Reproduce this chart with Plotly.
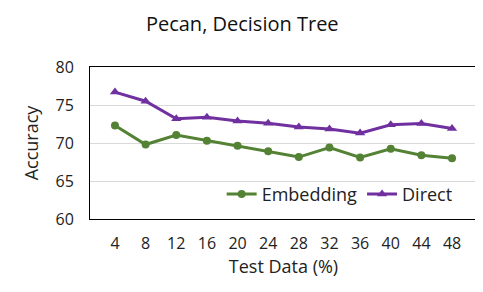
import plotly.graph_objects as go

test_pct = ["4", "8", "12", "16", "20", "24", "28", "32", "36", "40", "44", "48"]
embedding = [72.3, 69.8, 71.05, 70.3, 69.65, 68.9, 68.15, 69.4, 68.1, 69.25, 68.4, 68.0]
direct = [76.7, 75.5, 73.2, 73.4, 72.9, 72.6, 72.1, 71.85, 71.3, 72.4, 72.55, 71.9]

FONT = "Open Sans"
fig = go.Figure()
fig.add_trace(go.Scatter(x=test_pct, y=embedding, name="Embedding", mode="lines+markers",
                         line=dict(color="#548235", width=3),
                         marker=dict(symbol="circle", size=8, color="#548235")))
fig.add_trace(go.Scatter(x=test_pct, y=direct, name="Direct", mode="lines+markers",
                         line=dict(color="#7030A0", width=3),
                         marker=dict(symbol="triangle-up", size=9, color="#7030A0")))

fig.update_layout(
    width=483, height=292,
    margin=dict(l=82, r=14, t=59, b=81),
    paper_bgcolor="white", plot_bgcolor="white",
    font=dict(family=FONT, size=16, color="#222"),
    title=dict(text="Pecan, Decision Tree", x=0.485, xanchor="center", y=0.945, yanchor="middle",
               font=dict(family=FONT, size=20, color="#111")),
    xaxis=dict(type="category", showgrid=False, showline=True, linecolor="black", linewidth=1,
               mirror=True, ticks="", ticklabelstandoff=10, tickfont=dict(size=16),
               title=dict(text="Test Data (%)", standoff=0, font=dict(size=18))),
    yaxis=dict(range=[60, 80], dtick=5, showgrid=True, gridcolor="#d9d9d9", gridwidth=1,
               showline=True, linecolor="black", linewidth=1, mirror=True, ticks="",
               ticklabelstandoff=12, tickfont=dict(size=16),
               zeroline=False, title=dict(text="Accuracy", standoff=12, font=dict(size=18))),
    legend=dict(orientation="h", x=0.95, xanchor="right", y=0.04, yanchor="bottom",
                bgcolor="rgba(0,0,0,0)", font=dict(size=18), itemwidth=30),
    showlegend=True,
)
fig.write_html("out.html")
